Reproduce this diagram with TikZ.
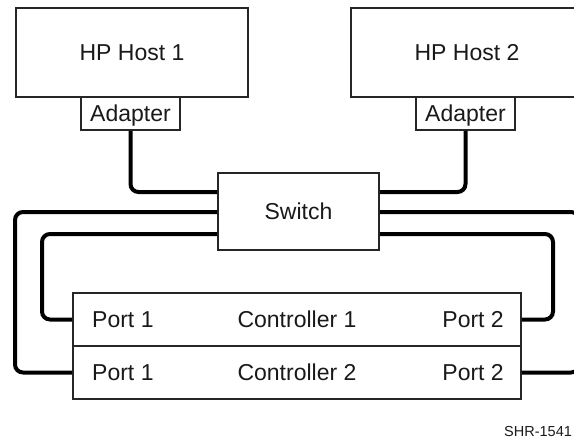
\documentclass[tikz,border=0pt]{standalone}
\usepackage{fontspec}
\setmainfont{Liberation Sans}
\begin{document}
\begin{tikzpicture}[x=1pt,y=-1pt,
  box/.style={draw=black!85, line width=1.6pt, inner sep=0pt, font=\fontsize{23}{26}\selectfont, text=black!90, text height=16.5pt, text depth=0pt},
  lbl/.style={inner sep=0pt, font=\fontsize{23}{26}\selectfont, text=black!90, text height=16.5pt, text depth=0pt},
  cable/.style={draw=black, line width=4pt, rounded corners=8pt}]
\useasboundingbox (0,0) rectangle (574,439);
\clip (0,0) rectangle (574,439);
% hosts
\node[box, minimum width=232pt, minimum height=89pt] (host1) at (132,52.5) {HP Host 1};
\node[box, minimum width=232pt, minimum height=89pt] (host2) at (467,52.5) {HP Host 2};
\node[box, minimum width=99pt, minimum height=33pt] (ad1) at (130.5,113.5) {Adapter};
\node[box, minimum width=99pt, minimum height=33pt] (ad2) at (465.5,113.5) {Adapter};
% switch
\node[box, minimum width=161pt, minimum height=77pt] (sw) at (298.5,211.5) {Switch};
% controllers
\node[box, minimum width=448pt, minimum height=53pt] (ctrl1) at (297,319.5) {Controller 1};
\node[box, minimum width=448pt, minimum height=53pt] (ctrl2) at (297,372.5) {Controller 2};
\node[lbl, anchor=west] (p11) at (92,319.5) {Port 1};
\node[lbl, anchor=east] (p12) at (504,319.5) {Port 2};
\node[lbl, anchor=west] (p21) at (92,372.5) {Port 1};
\node[lbl, anchor=east] (p22) at (504,372.5) {Port 2};
% cables
\draw[cable] (ad1.south) |- ([yshift=19.5pt]sw.west);
\draw[cable] (ad2.south) |- ([yshift=19.5pt]sw.east);
\draw[cable] ([yshift=-0.5pt]sw.west) -| (15,300) |- (ctrl2.west);
\draw[cable] ([yshift=-22.5pt]sw.west) -| (42,280) |- (ctrl1.west);
\draw[cable] ([yshift=-22.5pt]sw.east) -| (553,280) |- (ctrl1.east);
\draw[cable] ([yshift=-0.5pt]sw.east) -| (579,300) |- (ctrl2.east);
% figure reference
\node[inner sep=0pt, anchor=base west, font=\fontsize{14.5}{17}\selectfont, text=black!90] (ref) at (504,436) {SHR-1541};
\end{tikzpicture}
\end{document}
